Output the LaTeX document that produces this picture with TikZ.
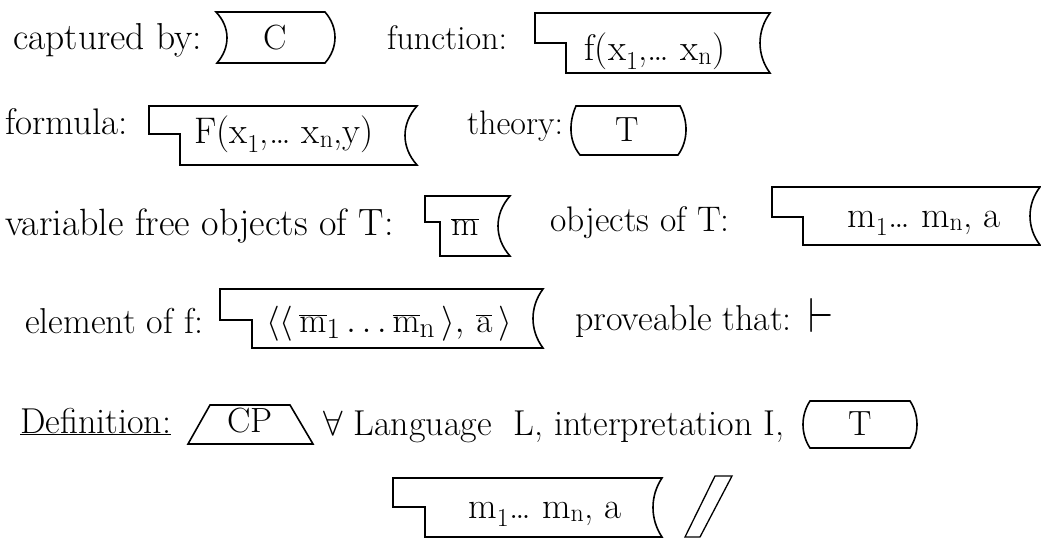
\documentclass[tikz,border=0pt]{standalone}
\usepackage{graphicx}
\newcommand\fsz[1]{\fontsize{#1}{#1}\selectfont}
\newcommand\bigmath[1]{\scalebox{1.41}{\fsz{24.88}$#1$}}
\tikzset{
  shp/.style={draw=black, line width=1.6pt, line join=miter},
  lbl/.style={anchor=base west, inner sep=0pt, font=\fsz{35}},
  ctr/.style={anchor=base, inner sep=0pt, font=\fsz{35}}
}
% box with a step on the left and a "(" on the right
% #1 left, #2 top, #3 step y, #4 step x, #5 bottom, #6 right, #7 bulge x
\newcommand\objshape[7]{%
\draw[shp] (#1,#2) -- (#6,#2)
  .. controls ({#6+1.333*(#7-#6)},{#2+0.3*(#5-#2)}) and ({#6+1.333*(#7-#6)},{#5-0.3*(#5-#2)}) .. (#6,#5)
  -- (#4,#5) -- (#4,#3) -- (#1,#3) -- cycle;}
% box with curved sides
% #1 top, #2 bottom, #3 left top x, #4 left bottom x, #5 left bulge x,
% #6 right top x, #7 right bottom x, #8 right bulge x
\newcommand\sideshape[8]{%
\draw[shp] (#3,#1) -- (#6,#1)
  .. controls ({#6+1.333*(#8-#6)},{#1+0.3*(#2-#1)}) and ({#7+1.333*(#8-#7)},{#2-0.3*(#2-#1)}) .. (#7,#2)
  -- (#4,#2)
  .. controls ({#4+1.333*(#5-#4)},{#2-0.3*(#2-#1)}) and ({#3+1.333*(#5-#3)},{#1+0.3*(#2-#1)}) .. (#3,#1) -- cycle;}
\begin{document}
\begin{tikzpicture}[x=1pt,y=-1pt]
\fill[white] (0,0) rectangle (1041,540);
\useasboundingbox (0,0) rectangle (1041,540);

% row 1
\node[lbl, font=\fsz{37.5}] (capl) at (13,50) {captured by:};
\sideshape{12}{63}{216}{217}{227}{325}{325}{335}
\node[ctr] (capC) at (275,50) {C};
\node[lbl, font=\fsz{34}] (funl) at (387,50) {function:};
\objshape{535}{13}{43}{566}{73}{770}{760}
\node[ctr, font=\fsz{37}] (funt) at (655,61) {f(x\textsubscript{1},\dots\ x\textsubscript{n})};

% row 2
\node[lbl, font=\fsz{37}] (forml) at (5,135) {formula:};
\objshape{149}{106}{134}{180}{165}{417}{405}
\node[ctr, font=\fsz{37}] (formt) at (284,144) {F(x\textsubscript{1},\dots\ x\textsubscript{n},y)};
\node[lbl, font=\fsz{34}] (theol) at (467,135) {theory:};
\sideshape{106}{155}{576}{580}{571}{680}{678}{686}
\node[ctr] (theoT) at (627,142) {T};

% row 3
\node[lbl, font=\fsz{38}] (varl) at (5,236) {variable free objects of T:};
\objshape{425}{196}{222}{440}{256}{510}{498}
\node[ctr] (vart) at (465,236) {\bigmath{\overline{\mathrm{m}}}};
\node[lbl, font=\fsz{35.5}] (objl) at (550,231) {objects of T:};
\objshape{772}{187}{217}{803}{245}{1040}{1030}
\node[ctr, font=\fsz{37}] (objt) at (924,227) {m\textsubscript{1}\dots\ m\textsubscript{n}, a};

% row 4
\node[lbl, font=\fsz{36}] (elel) at (25,333) {element of f:};
\objshape{220}{289}{320}{252}{348}{543}{533}
\node[ctr] (elet) at (389,332) {\bigmath{\langle\langle\,\overline{\mathrm{m}}_1\ldots\overline{\mathrm{m}}_{\mathrm{n}}\,\rangle,\,\overline{\mathrm{a}}\,\rangle}};
\node[lbl, font=\fsz{36}] (provl) at (575,330) {proveable that:};
\node[inner sep=0pt] (provs) at (821,315) {\resizebox{25pt}{34pt}{$\vdash$}};

% row 5
\node[lbl, font=\fsz{36}] (defl) at (20,433) {\underline{Definition:}};
\draw[shp] (188,444) -- (210,405) -- (290,405) -- (313,444) -- cycle;
\node[ctr] (cpt) at (250,432) {CP};
\node[lbl, font=\fsz{36}] (defr) at (323,435) {\bigmath{\forall} Language\ \ L, interpretation I,};
\sideshape{401}{448}{810}{810}{803}{910}{910}{917}
\node[ctr] (defT) at (860,435) {T};

% row 6
\objshape{393}{478}{507}{425}{537}{662}{653}
\node[ctr, font=\fsz{37}] (lastt) at (545,518) {m\textsubscript{1}\dots\ m\textsubscript{n}, a};
\draw[shp, line width=1.3pt] (685,537) -- (715,476) -- (732,476) -- (700,537) -- cycle;
\end{tikzpicture}
\end{document}
